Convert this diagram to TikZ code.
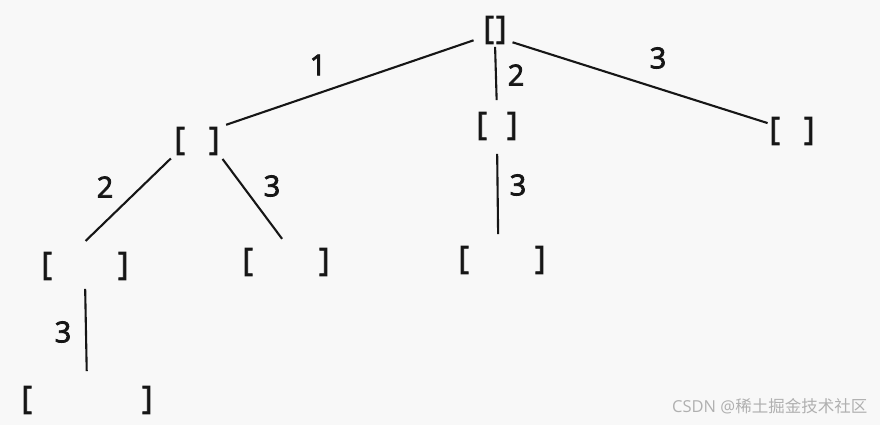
\documentclass[tikz,border=0pt]{standalone}
\usepackage{fontspec}
\setmainfont{Open Sans}
\newfontfamily\slotfont{Open Sans}[FakeBold=2.2]
\newfontfamily\lblfont{Open Sans}[FakeBold=2.6]
\newfontfamily\cjkfont{Noto Sans CJK SC}
\definecolor{ink}{HTML}{161616}
\definecolor{paper}{HTML}{F8F8F8}
\definecolor{wm}{HTML}{B0B0B0}
\newcommand{\brk}[1]{[\hspace{#1}]}
\tikzset{
  slot/.style={inner sep=0pt, outer sep=0pt, text=ink, font=\slotfont\fontsize{32}{32}\selectfont},
  lbl/.style={inner sep=0pt, text=ink, font=\lblfont\fontsize{29}{29}\selectfont},
  edge/.style={draw=ink, line width=2.1pt}
}
\begin{document}
\begin{tikzpicture}[x=1pt,y=-1pt]
\fill[paper] (0,0) rectangle (880,425);
\useasboundingbox (0,0) rectangle (880,425);
% nodes
\node[slot] (root) at (495,30) {\brk{2pt}};
\node[slot] (m1) at (497,126) {\brk{20pt}};
\node[slot] (l1) at (197,141) {\brk{24pt}};
\node[slot] (r1) at (792,131) {\brk{24pt}};
\node[slot] (m2) at (502,260) {\brk{66pt}};
\node[slot] (ll) at (85,266) {\brk{66pt}};
\node[slot] (lr) at (286,262) {\brk{66pt}};
\node[slot] (lll) at (87,400) {\brk{110pt}};
% edges
\draw[edge, shorten <=10.5pt, shorten >=7pt] (root.211) -- (l1.north east);
\draw[edge, shorten <=3pt, shorten >=12pt] (root.south) -- (m1.north);
\draw[edge, shorten <=6.3pt, shorten >=2pt] (root.-42) -- (r1.162);
\draw[edge, shorten <=5pt, shorten >=16pt] (l1.south west) -- (ll.128);
\draw[edge, shorten <=5pt, shorten >=11.5pt] (l1.south east) -- (lr.78);
\draw[edge, shorten <=14pt, shorten >=12pt] (m1.south) -- (m2.105);
\draw[edge, shorten <=9pt, shorten >=15pt] (ll.south) -- (lll.north);
% labels
\node[lbl] (t1) at (318,65) {1};
\node[lbl] (t2) at (516,75) {2};
\node[lbl] (t3) at (658,58) {3};
\node[lbl] (t4) at (105,187) {2};
\node[lbl] (t5) at (272,186) {3};
\node[lbl] (t6) at (518,185) {3};
\node[lbl] (t7) at (63,332) {3};
% watermark
\node[anchor=west, inner sep=0pt, text=wm, font=\fontsize{16.5}{16.5}\selectfont] (wmk) at (672,406) {CSDN @\cjkfont 稀土掘金技术社区};
\end{tikzpicture}
\end{document}
